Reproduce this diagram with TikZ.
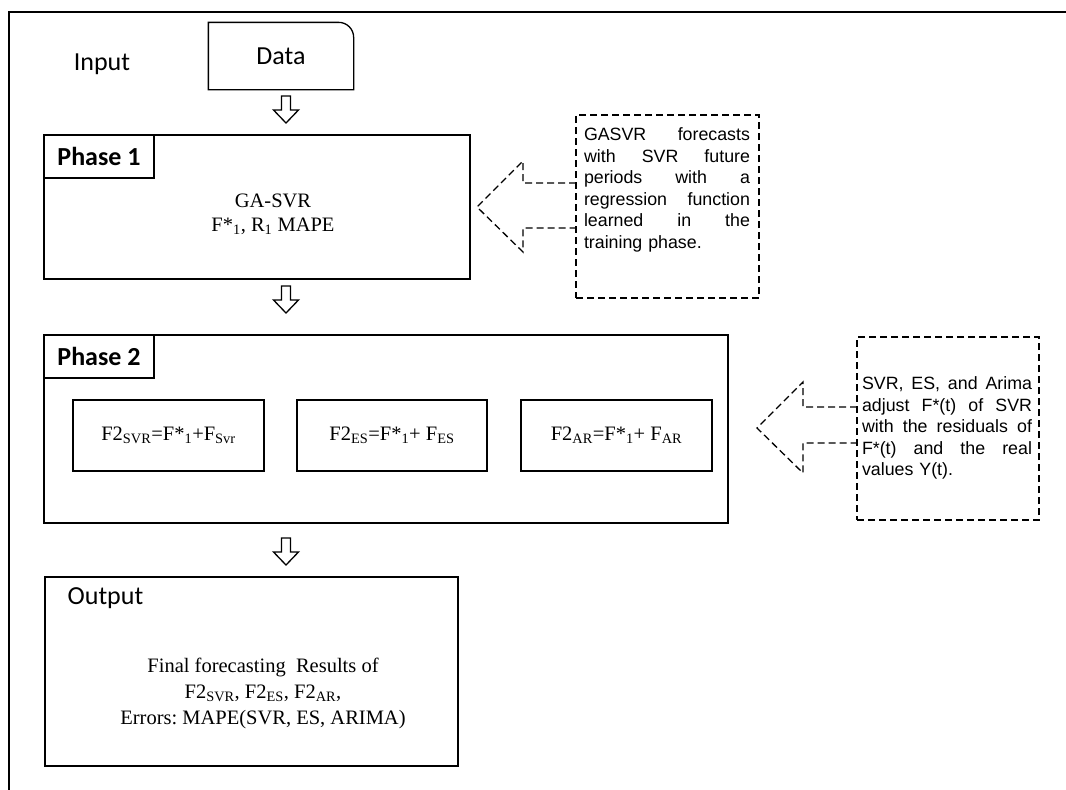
\documentclass[tikz,border=0pt]{standalone}
\usepackage{fontspec}
\setmainfont{Liberation Serif}
\newfontfamily\carlito{Carlito}
\newfontfamily\arialf{Liberation Sans}
\begin{document}
\begin{tikzpicture}[x=1pt,y=-1pt,line width=1.3pt,
  box/.style={draw,line width=1.3pt,inner sep=0pt},
  lab/.style={draw,line width=1.3pt,font=\carlito\bfseries\fontsize{26}{30}\selectfont,
    minimum width=110pt,minimum height=43pt,anchor=north west,inner sep=0pt},
  cal/.style={font=\carlito\fontsize{26}{30}\selectfont,inner sep=0pt},
  serif/.style={font=\fontsize{20.5}{24}\selectfont},
  dashedline/.style={dash pattern=on 7pt off 4pt,line width=1.3pt},
  calltext/.style={font=\arialf\fontsize{17.8}{21.6}\selectfont,inner sep=0pt,anchor=north,align=left},
  hollowdown/.pic={\draw[line width=1.3pt,line join=miter]
    (-4.5,0) -- (-4.5,14) -- (-12.5,14) -- (0,27) -- (12.5,14) -- (4.5,14) -- (4.5,0) -- cycle;}
]
\useasboundingbox (0,0) rectangle (1066,790);
% outer frame
\coordinate (fbl) at (9,790);
\coordinate (ftl) at (9,12);
\coordinate (ftr) at (1066,12);
\draw[line width=1.5pt] (fbl) -- (ftl) -- (ftr);

% input
\node[cal] (input) at (102,64) {Input};
\node[cal,minimum width=144pt,minimum height=66pt] (data) at (281,56) {Data};
\draw[line width=1.3pt] (data.south west) -- (data.north west)
  [rounded corners=15pt] -- (data.north east) [sharp corners] -- (data.south east) -- cycle;
\pic at (286,96) {hollowdown};

% phase 1
\node[box,minimum width=426pt,minimum height=144pt] (p1) at (257,207) {};
\node[lab] (p1lab) at (p1.north west) {Phase 1};
\node[serif,align=center] (p1txt) at (273,214) {GA-SVR\\F*\textsubscript{1}, R\textsubscript{1} MAPE};
\pic at (286,286) {hollowdown};

% callout 1
\node[draw,dashedline,minimum width=183pt,minimum height=183pt,inner sep=0pt] (c1) at (667.5,206.5) {};
\node[calltext,text width=166pt] (c1txt) at (667,127) {%
\makebox[166pt][l]{GASVR\hfill forecasts}\\
\makebox[166pt][l]{with\hfill SVR\hfill future}\\
\makebox[166pt][l]{periods\hfill with\hfill a}\\
\makebox[166pt][l]{regression\hfill function}\\
\makebox[166pt][l]{learned\hfill in\hfill the}\\
training phase.};
\coordinate (c1a) at (576,183);
\coordinate (c1b) at (576,228);
\draw[dashedline,line join=miter] (c1a) -- (523,183) -- (523,161) -- (477,207) -- (523,252) -- (523,228) -- (c1b);

% phase 2
\node[box,minimum width=684pt,minimum height=188pt] (p2) at (386,429) {};
\node[lab] (p2lab) at (p2.north west) {Phase 2};
\node[box,serif,minimum width=191pt,minimum height=71pt] (b1) at (168.5,435.5)
  {F2\textsubscript{SVR}=F*\textsubscript{1}+F\textsubscript{Svr}};
\node[box,serif,minimum width=190pt,minimum height=71pt] (b2) at (392,435.5)
  {F2\textsubscript{ES}=F*\textsubscript{1}+ F\textsubscript{ES}};
\node[box,serif,minimum width=191pt,minimum height=71pt] (b3) at (616.5,435.5)
  {F2\textsubscript{AR}=F*\textsubscript{1}+ F\textsubscript{AR}};
\pic at (286,538) {hollowdown};

% callout 2
\node[draw,dashedline,minimum width=182pt,minimum height=183pt,inner sep=0pt] (c2) at (948,428.5) {};
\node[calltext,text width=170pt] (c2txt) at (947,376) {%
\makebox[170pt][l]{SVR,\hfill ES,\hfill and\hfill Arima}\\
\makebox[170pt][l]{adjust\hfill F*(t)\hfill of\hfill SVR}\\
\makebox[170pt][l]{with\hfill the\hfill residuals\hfill of}\\
\makebox[170pt][l]{F*(t)\hfill and\hfill the\hfill real}\\
values Y(t).};
\coordinate (c2a) at (857,407);
\coordinate (c2b) at (857,443);
\draw[dashedline,line join=miter] (c2a) -- (803,407) -- (803,382) -- (757,428) -- (803,473) -- (803,443) -- (c2b);

% output
\node[box,minimum width=413pt,minimum height=189pt] (out) at (251.5,671.5) {};
\node[cal,anchor=west] (outlab) at (67,598) {Output};
\node[serif,align=center,font=\fontsize{20.5}{26}\selectfont] (outtxt) at (263,693)
  {Final forecasting\ \ Results of\\ F2\textsubscript{SVR}, F2\textsubscript{ES}, F2\textsubscript{AR},\\ Errors:\ MAPE(SVR, ES, ARIMA)};
\end{tikzpicture}
\end{document}
